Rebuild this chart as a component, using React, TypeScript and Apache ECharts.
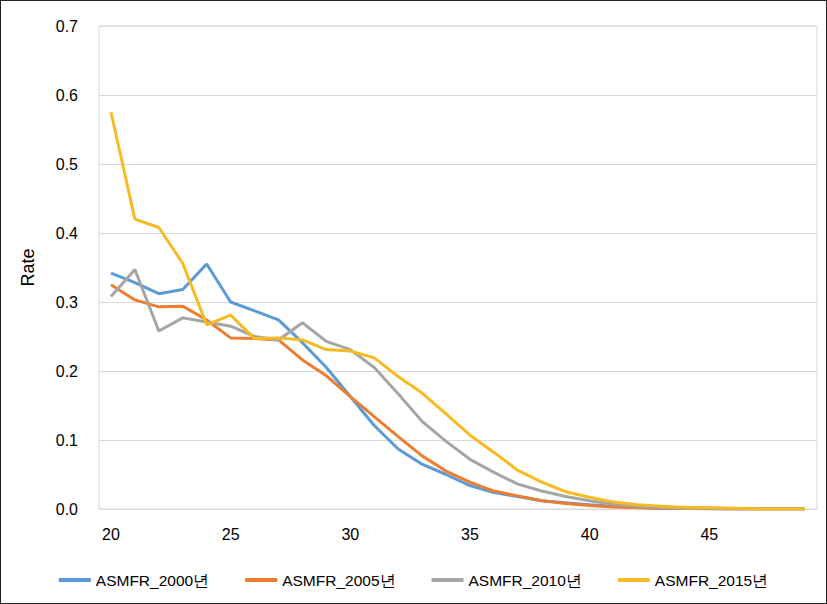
import React, { useEffect, useRef } from "react";
import * as echarts from "echarts";

const ages = Array.from({ length: 30 }, (_, i) => String(20 + i));
const seriesNames = ["ASMFR_2000년", "ASMFR_2005년", "ASMFR_2010년", "ASMFR_2015년"];
const asmfr2000 = [0.342, 0.328, 0.312, 0.318, 0.355, 0.300, 0.287, 0.274, 0.241, 0.205, 0.163, 0.121, 0.087, 0.065, 0.050, 0.034, 0.024, 0.018, 0.012, 0.009, 0.006, 0.004, 0.002, 0.001, 0.001, 0.001, 0.0, 0.0, 0.0, 0.0];
const asmfr2005 = [0.325, 0.303, 0.293, 0.294, 0.274, 0.248, 0.247, 0.245, 0.216, 0.193, 0.163, 0.134, 0.105, 0.077, 0.055, 0.039, 0.026, 0.019, 0.012, 0.008, 0.005, 0.003, 0.002, 0.001, 0.001, 0.0, 0.0, 0.0, 0.0, 0.0];
const asmfr2010 = [0.308, 0.347, 0.258, 0.277, 0.271, 0.265, 0.250, 0.245, 0.270, 0.243, 0.231, 0.205, 0.167, 0.127, 0.098, 0.072, 0.053, 0.036, 0.026, 0.018, 0.012, 0.007, 0.004, 0.002, 0.001, 0.001, 0.0, 0.0, 0.0, 0.0];
const asmfr2015 = [0.575, 0.420, 0.408, 0.356, 0.267, 0.281, 0.247, 0.248, 0.245, 0.231, 0.229, 0.219, 0.192, 0.168, 0.138, 0.107, 0.082, 0.056, 0.039, 0.025, 0.017, 0.010, 0.006, 0.004, 0.002, 0.002, 0.001, 0.0, 0.0, 0.0];
const colors = ["#5b9bd5", "#ed7d31", "#a5a5a5", "#f6bb22"];

export default function App() {
  const ref = useRef<HTMLDivElement>(null);
  useEffect(() => {
    document.body.style.margin = "0";
    const chart = echarts.init(ref.current!, undefined, { renderer: "svg" });
    const font = "Liberation Sans, Arial, sans-serif";
    const data = [asmfr2000, asmfr2005, asmfr2010, asmfr2015];
    chart.setOption({
      animation: false,
      backgroundColor: "#fff",
      textStyle: { fontFamily: font },
      grid: { left: 98, right: 9, top: 25, bottom: 94, show: true, borderColor: "#d9d9d9", borderWidth: 1 },
      legend: {
        bottom: 10,
        left: "center",
        itemWidth: 32,
        itemHeight: 4,
        itemGap: 36,
        icon: "rect",
        textStyle: { fontSize: 15.5, color: "#000", fontFamily: font },
        data: seriesNames,
      },
      xAxis: {
        type: "category",
        data: ages,
        boundaryGap: true,
        axisLine: { lineStyle: { color: "#d9d9d9" } },
        axisTick: { show: false },
        axisLabel: { interval: 4, color: "#000", fontSize: 16, margin: 17 },
      },
      yAxis: {
        type: "value",
        name: "Rate",
        nameLocation: "middle",
        nameGap: 62,
        nameRotate: 90,
        nameTextStyle: { fontSize: 18, color: "#000" },
        min: 0,
        max: 0.7,
        interval: 0.1,
        axisLine: { show: false },
        axisTick: { show: false },
        splitLine: { lineStyle: { color: "#d9d9d9", width: 1 } },
        axisLabel: { color: "#000", fontSize: 16, margin: 21, formatter: (v: number) => v.toFixed(1) },
      },
      series: seriesNames.map((n, i) => ({
        name: n,
        type: "line",
        data: data[i],
        showSymbol: false,
        symbol: "none",
        lineStyle: { color: colors[i], width: 3 },
        itemStyle: { color: colors[i] },
      })),
    });
    return () => chart.dispose();
  }, []);
  return (
    <div
      ref={ref}
      style={{ width: 827, height: 604, border: "1px solid #222", boxSizing: "border-box" }}
    />
  );
}
